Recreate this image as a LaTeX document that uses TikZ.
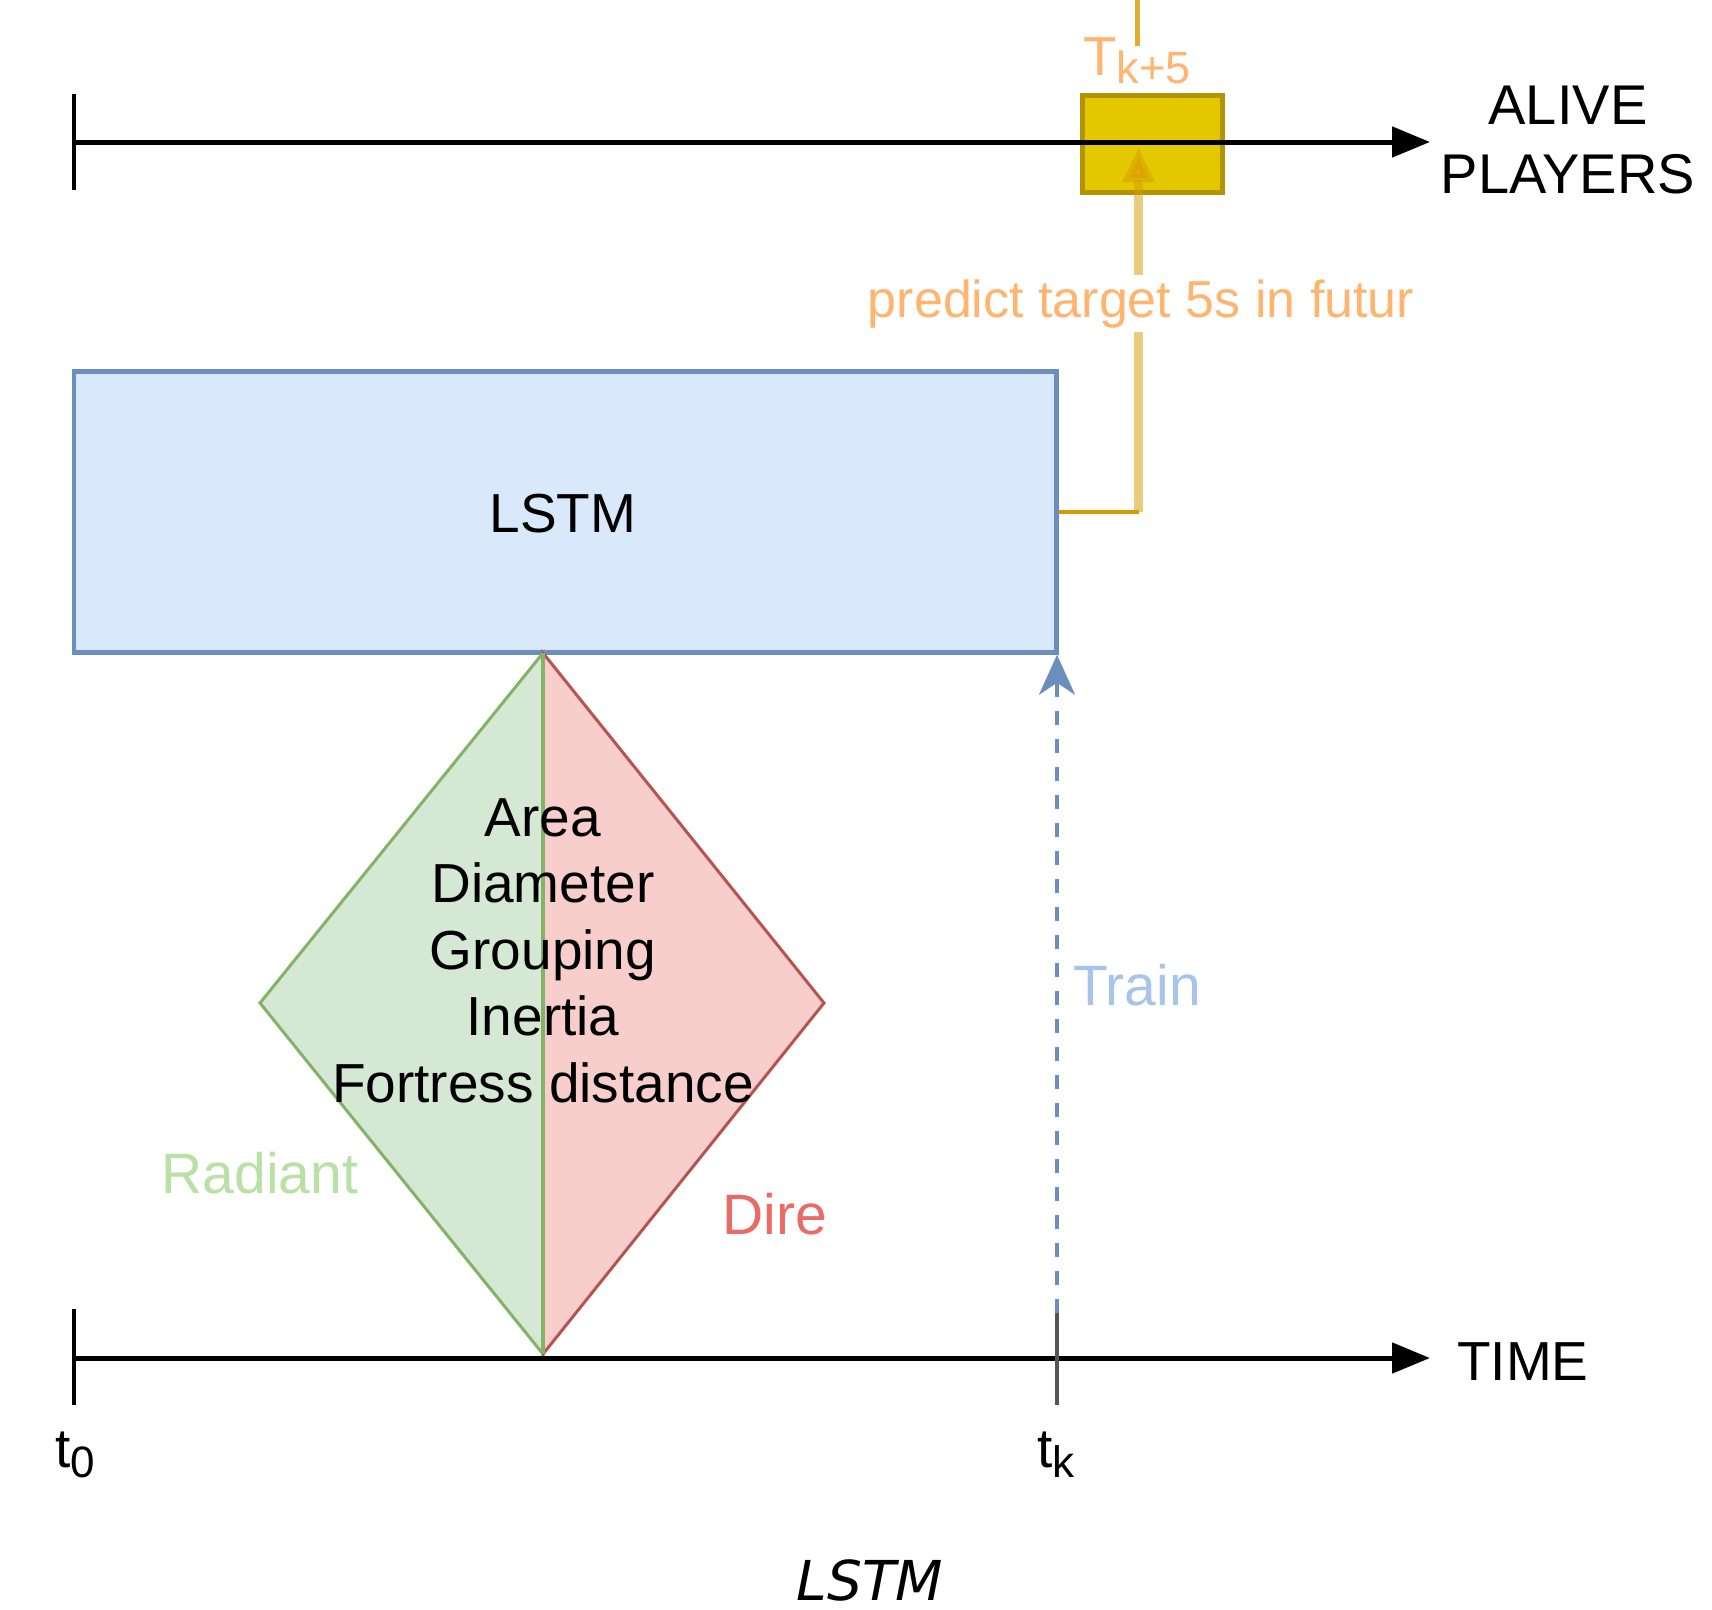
\documentclass[tikz,border=0pt]{standalone}
\usepackage{fontspec}
\setmainfont{Liberation Sans}
\newfontfamily\capfont{DejaVu Sans}
\usetikzlibrary{arrows.meta}
\definecolor{lstmfill}{HTML}{DAE8FC}
\definecolor{lstmdraw}{HTML}{6C8EBF}
\definecolor{radfill}{HTML}{D5E8D4}
\definecolor{raddraw}{HTML}{82B366}
\definecolor{direfill}{HTML}{F8CECC}
\definecolor{diredraw}{HTML}{B85450}
\definecolor{yelfill}{HTML}{E3C800}
\definecolor{yeldraw}{HTML}{B09500}
\definecolor{orangeline}{HTML}{D79B00}
\definecolor{peach}{HTML}{FFB570}
\definecolor{trainblue}{HTML}{A9C4EB}
\definecolor{radtext}{HTML}{B9E0A5}
\definecolor{diretext}{HTML}{EA6B66}
\definecolor{tickgray}{HTML}{555555}
\begin{document}
\begin{tikzpicture}[x=1pt,y=-1pt,
  lbl/.style={font=\fontsize{55}{66}\selectfont, inner sep=0pt, anchor=base},
  biglbl/.style={font=\fontsize{57}{66}\selectfont, inner sep=0pt, anchor=base},
  axisline/.style={line width=5pt, -{Triangle[length=38pt,width=30pt]}},
  tickline/.style={line width=4pt}
]
\useasboundingbox (0,0) rectangle (1712,1609);
\fill[white] (0,0) rectangle (1712,1609);

% LSTM box
\node[draw=lstmdraw, fill=lstmfill, line width=4.5pt, minimum width=982.5pt, minimum height=281pt, inner sep=0pt] (lstm) at (565.25,512) {};
\node[lbl] (lstmtxt) at (563,532) {LSTM};

% diamond
\coordinate (dtop) at (543,653);
\coordinate (dbot) at (543,1354);
\coordinate (dleft) at (260,1003);
\coordinate (dright) at (824,1003);
\filldraw[fill=radfill, draw=raddraw, line width=3pt, line join=miter] (dtop) -- (dleft) -- (dbot) -- cycle;
\filldraw[fill=direfill, draw=diredraw, line width=3pt, line join=miter] (dtop) -- (dright) -- (dbot) -- cycle;
\draw[raddraw, line width=4pt] (dtop) -- (dbot);
\node[font=\fontsize{55}{66.5}\selectfont, align=center, inner sep=0pt, anchor=center] (feat) at (543,950.5)
  {Area\\Diameter\\Grouping\\Inertia\\Fortress distance};
\node[biglbl, text=radtext] (rad) at (260,1193) {Radiant};
\node[biglbl, text=diretext] (dire) at (775,1234) {Dire};

% yellow target box
\node[draw=yeldraw, fill=yelfill, line width=5pt, minimum width=140pt, minimum height=97pt, inner sep=0pt] (target) at (1152.5,144) {};

% top axis
\coordinate (a0) at (74,142);
\coordinate (a1) at (1430,142);
\draw[axisline] (a0) -- (a1);
\coordinate (atop) at (74,94);
\coordinate (abot) at (74,190);
\draw[tickline] (atop) -- (abot);
\node[font=\fontsize{56}{69}\selectfont, align=center, inner sep=0pt] (alive) at (1568,140) {ALIVE\\PLAYERS};

% bottom axis
\coordinate (b0) at (74,1358);
\coordinate (b1) at (1430,1358);
\draw[axisline] (b0) -- (b1);
\coordinate (t0top) at (74,1309);
\coordinate (t0bot) at (74,1405);
\coordinate (tktop) at (1057,1313);
\coordinate (tkbot) at (1057,1405);
\draw[tickline] (t0top) -- (t0bot);
\draw[tickline, tickgray] (tktop) -- (tkbot);
\node[lbl, anchor=base west] (time) at (1457,1380) {TIME};
\node[lbl] (t0) at (75,1467) {t\raisebox{-10pt}{\fontsize{44}{44}\selectfont 0}};
\node[lbl] (tk) at (1056,1467) {t\raisebox{-10pt}{\fontsize{44}{44}\selectfont k}};

% train arrow
\draw[lstmdraw, line width=3.5pt, dash pattern=on 14pt off 14pt,
  -{Stealth[length=40pt,width=36pt,inset=12pt]}] (tktop) -- (tktop |- lstm.south);
\node[biglbl, text=trainblue, anchor=base west] (train) at (1073,1005) {Train};

% prediction edge
\coordinate (ktarget) at (1138.5,148);
\coordinate (bend) at (lstm.east -| ktarget);
\draw[orangeline, line width=9pt, opacity=0.5, -{Triangle[length=34pt,width=30pt]}] (bend) -- (ktarget);
\draw[orangeline, line width=4pt] (lstm.east) -- (bend);
\node[font=\fontsize{52}{62}\selectfont, text=peach, fill=white, inner sep=4pt, anchor=base] (pred) at (1141,317) {predict target 5s in futur};

% T_{k+5} label and the line above it
\node[lbl, text=peach] (tk5) at (1137,75) {T\raisebox{-8pt}{\fontsize{45}{45}\selectfont k+5}};
\coordinate (topin) at (1137,0);
\coordinate (topout) at (1137,46);
\draw[orangeline, line width=5pt, opacity=0.8] (topin) -- (topout);

% caption
\node[font=\capfont\itshape\fontsize{55}{66}\selectfont, inner sep=0pt, anchor=base] (cap) at (870,1600) {LSTM};
\end{tikzpicture}
\end{document}
